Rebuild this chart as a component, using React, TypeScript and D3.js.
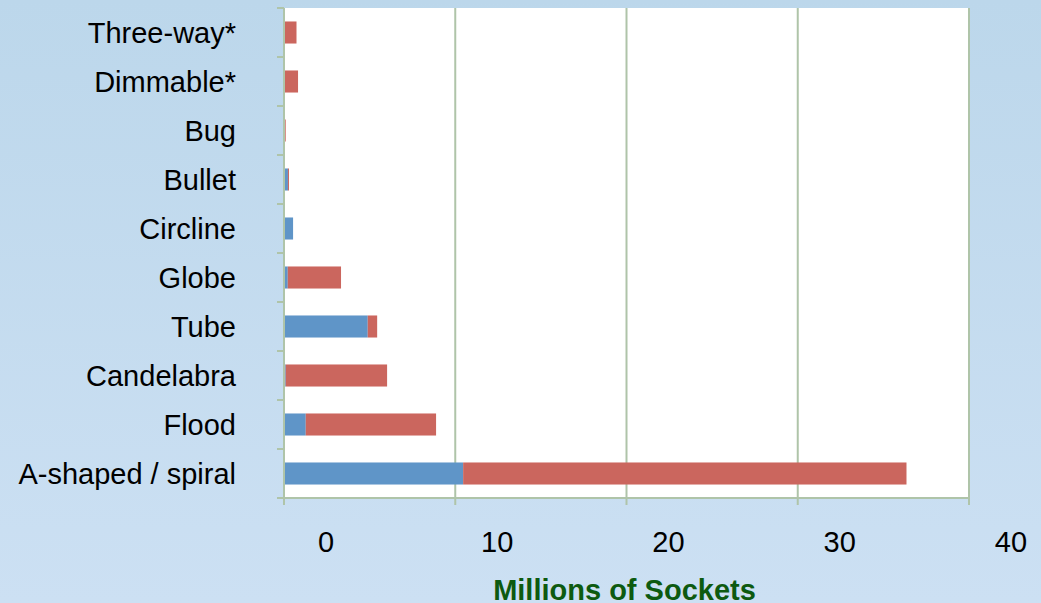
import React, { useEffect } from "react";
import * as d3 from "d3";

const categories = [
  "Three-way*",
  "Dimmable*",
  "Bug",
  "Bullet",
  "Circline",
  "Globe",
  "Tube",
  "Candelabra",
  "Flood",
  "A-shaped / spiral",
];
const blueValues = [0.03, 0, 0.04, 0.23, 0.53, 0.22, 4.89, 0.1, 1.27, 10.46];
const redValues = [0.7, 0.82, 0.06, 0.06, 0, 3.11, 0.55, 5.92, 7.61, 25.89];
const xTicks = [0, 10, 20, 30, 40];
const xTitle = "Millions of Sockets";

const W = 1041;
const H = 603;
const FONT = "'Liberation Sans', Arial, Helvetica, sans-serif";

export default function App() {
  useEffect(() => {
    document.body.style.margin = "0";
  }, []);

  const x = d3.scaleLinear().domain([0, 40]).range([284, 969]);
  const y = d3
    .scaleBand<string>()
    .domain(categories)
    .range([8, 498])
    .paddingInner(0.55)
    .paddingOuter(0.275);
  const step = y.step();
  const gridColor = "#afc4a9";

  return (
    <svg width={W} height={H} style={{ display: "block" }}>
      <defs>
        <linearGradient id="bg" x1="0" y1="0" x2="0" y2="1">
          <stop offset="0" stopColor="#bcd7eb" />
          <stop offset="1" stopColor="#cce0f3" />
        </linearGradient>
      </defs>
      <rect x={0} y={0} width={W} height={H} fill="url(#bg)" />
      <rect x={x(0)} y={8} width={x(40) - x(0)} height={490} fill="#ffffff" />
      {/* gridlines */}
      {xTicks.map((t) => (
        <line
          key={"g" + t}
          x1={x(t)}
          x2={x(t)}
          y1={8}
          y2={505}
          stroke={gridColor}
          strokeWidth={2}
        />
      ))}
      {/* bars */}
      {categories.map((c, i) => (
        <g key={c}>
          <rect
            x={x(0)}
            y={y(c)}
            width={x(blueValues[i]) - x(0)}
            height={y.bandwidth()}
            fill="#5f95c8"
          />
          <rect
            x={x(blueValues[i])}
            y={y(c)}
            width={x(blueValues[i] + redValues[i]) - x(blueValues[i])}
            height={y.bandwidth()}
            fill="#cb665e"
          />
        </g>
      ))}
      {/* axes */}
      <line x1={x(0)} x2={x(0)} y1={8} y2={505} stroke={gridColor} strokeWidth={2} />
      <line x1={277} x2={x(40) + 1} y1={498} y2={498} stroke={gridColor} strokeWidth={2} />
      {d3.range(categories.length + 1).map((i) => (
        <line
          key={"yt" + i}
          x1={277}
          x2={x(0)}
          y1={8 + i * step}
          y2={8 + i * step}
          stroke={gridColor}
          strokeWidth={2}
        />
      ))}
      {/* category labels */}
      {categories.map((c) => (
        <text
          key={"l" + c}
          x={236}
          y={(y(c) as number) + y.bandwidth() / 2 + 10.5}
          textAnchor="end"
          fontFamily={FONT}
          fontSize={29}
          fill="#000"
        >
          {c}
        </text>
      ))}
      {/* x tick labels */}
      {xTicks.map((t) => (
        <text
          key={"xl" + t}
          x={x(t) + 42}
          y={552}
          textAnchor="middle"
          fontFamily={FONT}
          fontSize={29}
          fill="#000"
        >
          {t}
        </text>
      ))}
      <text
        x={624.5}
        y={600}
        textAnchor="middle"
        fontFamily={FONT}
        fontSize={29}
        fontWeight="bold"
        fill="#0d5a10"
      >
        {xTitle}
      </text>
    </svg>
  );
}
